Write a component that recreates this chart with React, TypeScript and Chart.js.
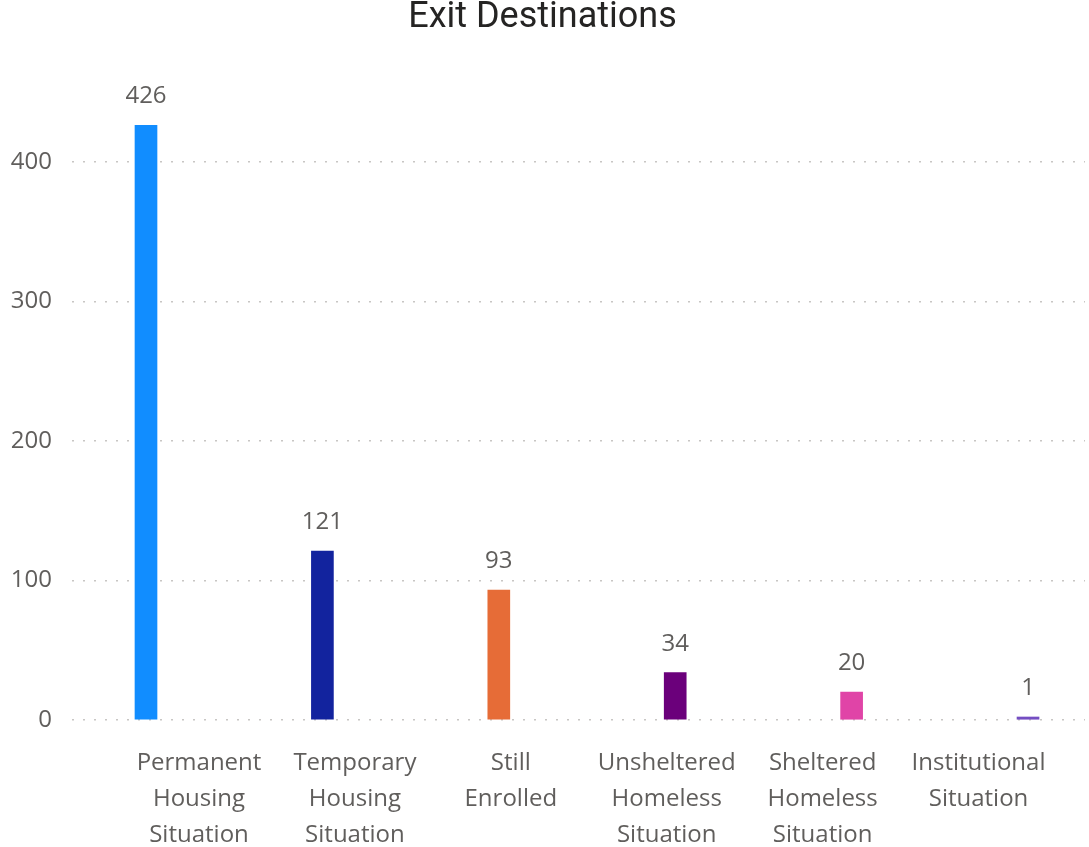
import React, { useEffect, useRef } from 'react';
import { Chart, registerables } from 'chart.js';

Chart.register(...registerables);

const categories = [
  'Permanent Housing Situation',
  'Temporary Housing Situation',
  'Still Enrolled',
  'Unsheltered Homeless Situation',
  'Sheltered Homeless Situation',
  'Institutional Situation',
];
const labelLines = [
  ['Permanent', 'Housing', 'Situation'],
  ['Temporary', 'Housing', 'Situation'],
  ['Still', 'Enrolled'],
  ['Unsheltered', 'Homeless', 'Situation'],
  ['Sheltered', 'Homeless', 'Situation'],
  ['Institutional', 'Situation'],
];
const exitCounts = [426, 121, 93, 34, 20, 1];
const barColors = ['#118DFF', '#12239E', '#E66C37', '#6B007B', '#E044A7', '#744EC2'];
const yTicks = [0, 100, 200, 300, 400];

const FONT = "'Open Sans', 'Noto Sans', sans-serif";
const GREY = '#605E5C';

// draws the value above each bar
const valueLabels = {
  id: 'valueLabels',
  afterDatasetsDraw(chart: Chart) {
    const { ctx } = chart;
    const meta = chart.getDatasetMeta(0);
    ctx.save();
    ctx.font = `24px ${FONT}`;
    ctx.fillStyle = GREY;
    ctx.textAlign = 'center';
    ctx.textBaseline = 'alphabetic';
    meta.data.forEach((bar: any, i: number) => {
      ctx.fillText(String(exitCounts[i]), bar.x, bar.y - 22);
    });
    ctx.restore();
  },
};

// keep the x axes from shrinking the plot area for their first/last labels
const noSidePadding = (axis: any) => {
  axis.paddingLeft = 0;
  axis.paddingRight = 0;
};

const ExitDestinationsChart: React.FC = () => {
  const chartRef = useRef<HTMLCanvasElement>(null);
  const chartInstance = useRef<Chart | null>(null);

  useEffect(() => {
    if (!chartRef.current) return;
    document.body.style.margin = '0';

    if (chartInstance.current) {
      chartInstance.current.destroy();
    }

    chartInstance.current = new Chart(chartRef.current, {
      type: 'bar',
      data: {
        datasets: [{
          label: 'Exits',
          data: exitCounts.map((v, i) => ({ x: i, y: v })),
          backgroundColor: barColors,
          barThickness: 22,
          minBarLength: 3,
          xAxisID: 'xb',
          yAxisID: 'y',
        }],
      },
      options: {
        animation: false,
        responsive: true,
        maintainAspectRatio: false,
        layout: { padding: { left: 0, right: 4, top: 0, bottom: 0 } },
        scales: {
          xb: {
            type: 'linear',
            display: false,
            offset: false,
            min: -0.4195,
            max: 5.323,
            afterFit: noSidePadding,
          },
          x: {
            type: 'linear',
            position: 'bottom',
            offset: false,
            min: -0.8146,
            max: 5.683,
            grid: { display: false, drawTicks: false },
            border: { display: false },
            afterBuildTicks: (axis: any) => {
              axis.ticks = categories.map((_, i) => ({ value: i }));
            },
            afterFit: (axis: any) => {
              noSidePadding(axis);
              axis.height = 127;
            },
            ticks: {
              autoSkip: false,
              maxRotation: 0,
              padding: 25,
              color: GREY,
              font: { family: FONT, size: 24, lineHeight: 1.5 },
              callback: (value: any) => labelLines[value] ?? '',
            },
          },
          y: {
            min: 0,
            max: 470,
            afterBuildTicks: (axis: any) => {
              axis.ticks = yTicks.map((v) => ({ value: v }));
            },
            afterFit: (axis: any) => {
              axis.width = 72;
            },
            grid: { color: '#C8C6C4', lineWidth: 1.5, drawTicks: false },
            border: { display: false, dash: [2, 9] },
            ticks: {
              padding: 20,
              color: GREY,
              font: { family: FONT, size: 24 },
            },
          },
        },
        plugins: {
          legend: { display: false },
          tooltip: { enabled: false },
          title: {
            display: true,
            text: 'Exit Destinations',
            color: '#252423',
            font: { family: "Roboto, 'Open Sans', sans-serif", size: 36, weight: 'normal', lineHeight: 1.0 },
            padding: { top: 0, bottom: 28 },
          },
        },
      },
      plugins: [valueLabels],
    });

    return () => {
      if (chartInstance.current) {
        chartInstance.current.destroy();
        chartInstance.current = null;
      }
    };
  }, []);

  return (
    <div style={{ width: 1089, height: 847, position: 'relative' }}>
      <canvas ref={chartRef} />
    </div>
  );
};

export default function App() {
  return <ExitDestinationsChart />;
}
